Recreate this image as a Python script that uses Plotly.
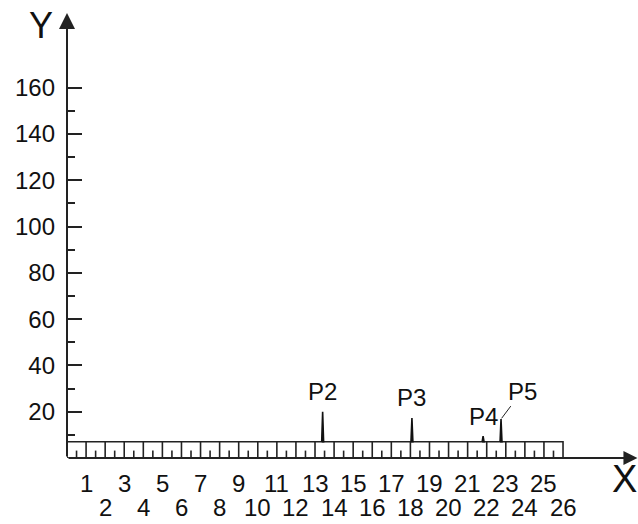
import plotly.graph_objects as go

# ---- data ----
cell_labels = list(range(1, 27))            # ruler cells / x tick labels
peak_names = ["P2", "P3", "P4", "P5"]
peak_x = [13.40, 18.08, 21.81, 22.75]
peak_height = [20.0, 17.3, 9.5, 16.8]
y_major = [20, 40, 60, 80, 100, 120, 140, 160]
y_minor = [10, 30, 50, 70, 90, 110, 130, 150]
band_top = 7.0
mid_tick = 3.2

LINE = "#222222"
FONT = "Liberation Sans, Arial, sans-serif"

n = len(cell_labels)
fig = go.Figure()

# ruler band outline + cell boundaries
bx, by = [0, n, n, 0, 0, None], [0, 0, band_top, band_top, 0, None]
for k in cell_labels[:-1]:
    bx += [k, k, None]
    by += [0, band_top, None]
for k in cell_labels:
    bx += [k - 0.5, k - 0.5, None]
    by += [0, mid_tick, None]
fig.add_trace(go.Scatter(x=bx, y=by, mode="lines",
                         line=dict(color=LINE, width=1.6), hoverinfo="skip"))

# peaks as thin spikes
px_, py_ = [], []
hw = 0.05
for cx, h in zip(peak_x, peak_height):
    px_ += [cx - hw, cx, cx + hw, cx - hw, None]
    py_ += [band_top, h, band_top, band_top, None]
fig.add_trace(go.Scatter(x=px_, y=py_, mode="lines", fill="toself",
                         fillcolor="#111111", line=dict(color="#111111", width=1.6),
                         hoverinfo="skip"))

x_max = 29.93
y_max = 197.9

annotations = []
# axis arrows
annotations.append(dict(x=0, y=192.3, ax=0, ay=0, axref="x", ayref="y",
                        xref="x", yref="y", text="", showarrow=True,
                        arrowhead=2, arrowsize=1.6, arrowwidth=2, arrowcolor=LINE))
annotations.append(dict(x=29.9, y=0, ax=0, ay=0, axref="x", ayref="y",
                        xref="x", yref="y", text="", showarrow=True,
                        arrowhead=2, arrowsize=1.4, arrowwidth=2, arrowcolor=LINE))
# axis names
annotations.append(dict(x=-0.0455, y=0.9454, xref="paper", yref="paper", text="Y",
                        showarrow=False, font=dict(size=36, family=FONT, color="#111"),
                        xanchor="center", yanchor="middle"))
annotations.append(dict(x=0.977, y=-0.0459, xref="paper", yref="paper", text="X",
                        showarrow=False, font=dict(size=38, family=FONT, color="#111"),
                        xanchor="center", yanchor="middle"))
# x labels in two staggered rows
for k in cell_labels:
    yy = -0.0546 if k % 2 == 1 else -0.107
    annotations.append(dict(x=k, y=yy, xref="x", yref="paper", text=str(k),
                            showarrow=False, font=dict(size=24, family=FONT, color="#111"),
                            xanchor="center", yanchor="middle"))
# peak labels
for name, cx, h in zip(peak_names, peak_x, peak_height):
    if name == "P5":
        annotations.append(dict(x=cx, y=h, xref="x", yref="y", text=name,
                                showarrow=True, arrowhead=0, arrowwidth=1,
                                arrowcolor=LINE, ax=21, ay=-28, standoff=1,
                                font=dict(size=24, family=FONT, color="#111")))
    else:
        annotations.append(dict(x=cx, y=h, xref="x", yref="y", text=name,
                                showarrow=False, yanchor="middle", yshift=20,
                                font=dict(size=24, family=FONT, color="#111")))

fig.update_layout(
    width=638, height=524,
    margin=dict(l=67, r=0, t=0, b=66),
    plot_bgcolor="white", paper_bgcolor="white",
    showlegend=False,
    annotations=annotations,
)
fig.update_xaxes(range=[0, x_max], visible=False, fixedrange=True)
fig.update_yaxes(
    range=[0, y_max], showgrid=False, zeroline=False, showline=False,
    ticks="inside", ticklen=15, tickwidth=1.6, tickcolor=LINE,
    tickvals=y_major, ticktext=[str(v) for v in y_major],
    tickfont=dict(size=24, family=FONT, color="#111"),
    ticklabelstandoff=11,
    minor=dict(tickvals=y_minor, ticks="inside", ticklen=8, tickwidth=1.6,
               tickcolor=LINE, showgrid=False),
    fixedrange=True,
)

fig.write_html("out.html")
